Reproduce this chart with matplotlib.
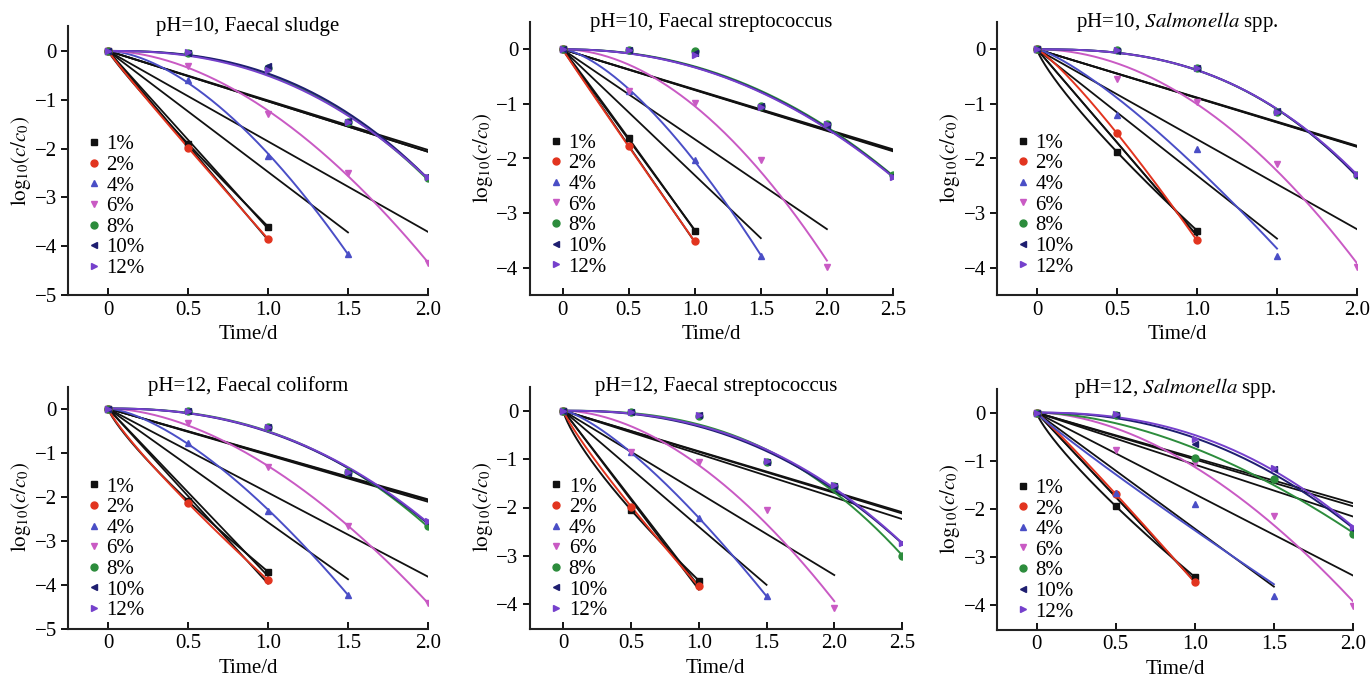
import numpy as np
import matplotlib
matplotlib.use("Agg")
import matplotlib.pyplot as plt
from matplotlib.lines import Line2D

plt.rcParams['font.family'] = ['Liberation Serif', 'DejaVu Serif']
plt.rcParams['mathtext.fontset'] = 'stix'
plt.rcParams['axes.unicode_minus'] = True

# ---- data: log10(c/c0) sampled every 0.5 d, starting at t = 0 ----
series_labels = ['1%', '2%', '4%', '6%', '8%', '10%', '12%']
series_colors = ['#111111', '#e2341f', '#4a4ec6', '#c95ac4', '#2c8c3c', '#1e1e70', '#7540cc']
series_markers = ['s', 'o', '^', 'v', 'o', '<', '>']

ph10_sludge = [
    [0, -1.90, -3.60],
    [0, -1.98, -3.85],
    [0, -0.60, -2.15, -4.15],
    [0, -0.30, -1.30, -2.50, -4.35],
    [0, -0.04, -0.35, -1.45, -2.60],
    [0, -0.04, -0.30, -1.43, -2.57],
    [0, -0.03, -0.40, -1.45, -2.58],
]
ph10_strep = [
    [0, -1.63, -3.32],
    [0, -1.78, -3.52],
    [0, -0.76, -2.02, -3.78],
    [0, -0.76, -0.98, -2.02, -3.98],
    [0, -0.02, -0.03, -1.03, -1.37, -2.30],
    [0, -0.02, -0.07, -1.04, -1.38, -2.32],
    [0, -0.02, -0.10, -1.05, -1.37, -2.34],
]
ph10_salmonella = [
    [0, -1.88, -3.32],
    [0, -1.54, -3.50],
    [0, -1.20, -1.82, -3.78],
    [0, -0.55, -0.97, -2.10, -3.98],
    [0, -0.02, -0.35, -1.14, -2.30],
    [0, -0.03, -0.35, -1.13, -2.32],
    [0, -0.02, -0.34, -1.14, -2.28],
]
ph12_coliform = [
    [0, -2.10, -3.71],
    [0, -2.15, -3.90],
    [0, -0.78, -2.32, -4.23],
    [0, -0.33, -1.34, -2.66, -4.42],
    [0, -0.05, -0.43, -1.45, -2.66],
    [0, -0.05, -0.43, -1.47, -2.58],
    [0, -0.05, -0.42, -1.45, -2.56],
]
ph12_strep = [
    [0, -2.05, -3.51],
    [0, -1.98, -3.63],
    [0, -0.86, -2.22, -3.83],
    [0, -0.86, -1.07, -2.05, -4.08],
    [0, -0.02, -0.10, -1.05, -1.55, -3.01],
    [0, -0.02, -0.09, -1.07, -1.56, -2.74],
    [0, -0.02, -0.08, -1.03, -1.53, -2.73],
]
ph12_salmonella = [
    [0, -1.94, -3.41],
    [0, -1.69, -3.52],
    [0, -1.67, -1.89, -3.80],
    [0, -0.77, -1.04, -2.14, -4.02],
    [0, -0.05, -0.95, -1.38, -2.52],
    [0, -0.05, -0.65, -1.18, -2.42],
    [0, -0.03, -0.55, -1.15, -2.38],
]

panel_titles = [
    'pH=10, Faecal sludge',
    'pH=10, Faecal streptococcus',
    r'pH=10, $\mathit{Salmonella}$ spp.',
    'pH=12, Faecal coliform',
    'pH=12, Faecal streptococcus',
    r'pH=12, $\mathit{Salmonella}$ spp.',
]
panel_data = [ph10_sludge, ph10_strep, ph10_salmonella,
              ph12_coliform, ph12_strep, ph12_salmonella]
panel_xmax = [2.0, 2.5, 2.0, 2.0, 2.5, 2.0]
panel_ymin = [-5, -4.5, -4.5, -5, -4.5, -4.5]

# axes boxes in pixels: left, right, top, bottom
W, H = 1371, 680
panel_boxes = [
    (68, 428, 26.5, 295),
    (529.5, 893, 22, 295),
    (997, 1357, 22, 295),
    (68, 428, 386.5, 628.5),
    (529.5, 902, 386.5, 628.5),
    (997, 1353, 388.5, 629.5),
]


def weibull_fit(t, y):
    # y = -b * t**p, least squares in linear space, grid over p
    best = None
    for p in np.linspace(0.3, 5.0, 941):
        tp = t ** p
        b = -np.sum(y * tp) / np.sum(tp * tp)
        sse = np.sum((y + b * tp) ** 2)
        if best is None or sse < best[0]:
            best = (sse, b, p)
    return best[1], best[2]


def linear_fit(t, y):
    # first-order kinetics through the origin
    return -np.sum(t * y) / np.sum(t * t)


fig = plt.figure(figsize=(W / 100, H / 100), dpi=100)

for idx in range(6):
    l, r, top, bot = panel_boxes[idx]
    ax = fig.add_axes([l / W, 1 - bot / H, (r - l) / W, (bot - top) / H])
    data = panel_data[idx]

    fits = []
    for vals in data:
        y = np.array(vals, dtype=float)
        t = np.arange(len(y)) * 0.5
        fits.append((t, y))

    # black first-order lines
    for t, y in fits:
        k = linear_fit(t, y)
        tt = np.linspace(0, t[-1], 50)
        ax.plot(tt, -k * tt, color='#111111', lw=1.3, zorder=2)

    # coloured Weibull-type curves
    for j, (t, y) in enumerate(fits):
        b, p = weibull_fit(t, y)
        tt = np.linspace(0, t[-1], 200)
        ax.plot(tt, -b * tt ** p, color=series_colors[j], lw=1.4, zorder=3)

    for j, (t, y) in enumerate(fits):
        ax.plot(t, y, linestyle='none', marker=series_markers[j],
                color=series_colors[j], ms=5, zorder=4)

    ax.set_xlim(-0.25, panel_xmax[idx])
    ax.set_ylim(panel_ymin[idx], 0.5)
    ax.set_xticks(np.arange(0, panel_xmax[idx] + 0.01, 0.5))
    ax.set_xticklabels(['0'] + ['%.1f' % v for v in np.arange(0.5, panel_xmax[idx] + 0.01, 0.5)])
    ax.set_yticks(np.arange(panel_ymin[idx] if panel_ymin[idx] == -5 else -4, 0.5, 1))
    for side in ['top', 'right']:
        ax.spines[side].set_visible(False)
    for side in ['left', 'bottom']:
        ax.spines[side].set_linewidth(1.5)
        ax.spines[side].set_color('#222222')
    ax.tick_params(axis='x', direction='in', length=5, width=1.3, labelsize=15, pad=4)
    ax.tick_params(axis='y', direction='out', length=5, width=1.3, labelsize=15, pad=3)

    ax.text(0.5, 1.0, panel_titles[idx], transform=ax.transAxes,
            ha='center', va='center', fontsize=15)
    ax.set_xlabel('Time/d', fontsize=15, labelpad=4)
    ax.set_ylabel(r'$\mathrm{log}_{10}(c/c_0)$', fontsize=15, labelpad=1)

    handles = [Line2D([], [], linestyle='none', marker=series_markers[j],
                      color=series_colors[j], ms=5) for j in range(7)]
    ax.legend(handles, series_labels, loc='center left',
              bbox_to_anchor=(0.055, 0.33), frameon=False, fontsize=15,
              handlelength=0.6, handletextpad=0.3, labelspacing=0.05,
              borderpad=0, borderaxespad=0)

fig.savefig('out.png', dpi=100)
